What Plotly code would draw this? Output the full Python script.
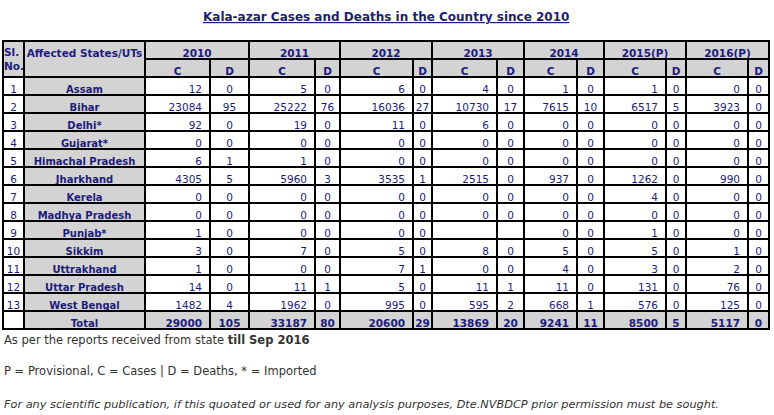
import plotly.graph_objects as go

# ---------------- data ----------------
sl_no = list(range(1, 14))
states = ["Assam", "Bihar", "Delhi*", "Gujarat*", "Himachal Pradesh", "Jharkhand",
          "Kerela", "Madhya Pradesh", "Punjab*", "Sikkim", "Uttrakhand",
          "Uttar Pradesh", "West Bengal"]
years = ["2010", "2011", "2012", "2013", "2014", "2015(P)", "2016(P)"]

cases_2010 = [12, 23084, 92, 0, 6, 4305, 0, 0, 1, 3, 1, 14, 1482]
deaths_2010 = [0, 95, 0, 0, 1, 5, 0, 0, 0, 0, 0, 0, 4]
cases_2011 = [5, 25222, 19, 0, 1, 5960, 0, 0, 0, 7, 0, 11, 1962]
deaths_2011 = [0, 76, 0, 0, 0, 3, 0, 0, 0, 0, 0, 1, 0]
cases_2012 = [6, 16036, 11, 0, 0, 3535, 0, 0, 0, 5, 7, 5, 995]
deaths_2012 = [0, 27, 0, 0, 0, 1, 0, 0, 0, 0, 1, 0, 0]
cases_2013 = [4, 10730, 6, 0, 0, 2515, 0, 0, None, 8, 0, 11, 595]
deaths_2013 = [0, 17, 0, 0, 0, 0, 0, 0, None, 0, 0, 1, 2]
cases_2014 = [1, 7615, 0, 0, 0, 937, 0, 0, 0, 5, 4, 11, 668]
deaths_2014 = [0, 10, 0, 0, 0, 0, 0, 0, 0, 0, 0, 0, 1]
cases_2015 = [1, 6517, 0, 0, 0, 1262, 4, 0, 1, 5, 3, 131, 576]
deaths_2015 = [0, 5, 0, 0, 0, 0, 0, 0, 0, 0, 0, 0, 0]
cases_2016 = [0, 3923, 0, 0, 0, 990, 0, 0, 0, 1, 2, 76, 125]
deaths_2016 = [0, 0, 0, 0, 0, 0, 0, 0, 0, 0, 0, 0, 0]

total_cases = [29000, 33187, 20600, 13869, 9241, 8500, 5117]
total_deaths = [105, 80, 29, 20, 11, 5, 0]

# ---------------- styling ----------------
W, H = 774, 415
NAVY = "#1c1c7c"
GRAY = "#d3d3d3"
LINE = "#000000"
NOTE = "#333333"
FONT = "DejaVu Sans"
ROW_H = 18
TOP = 41
LEFT, SPLIT, RIGHT = 3, 145, 770
left_widths = [21, 121]
value_widths = [65, 39, 66, 25, 73, 19, 65, 27, 53, 27, 62, 20, 62, 21]

NB = "\u00a0"


def px_x(v):
    return v / W


def px_y(v):
    return 1 - v / H


def fmt(v):
    return "" if v is None else str(v)


def nb(s):
    return s.replace(" ", NB)


case_cols = [cases_2010, cases_2011, cases_2012, cases_2013, cases_2014, cases_2015, cases_2016]
death_cols = [deaths_2010, deaths_2011, deaths_2012, deaths_2013, deaths_2014, deaths_2015, deaths_2016]

value_values, value_header, value_align, total_row = [], [], [], []
for c, d, tc, td in zip(case_cols, death_cols, total_cases, total_deaths):
    value_values.append([fmt(v) for v in c])
    value_values.append([fmt(v) for v in d])
    total_row += [str(tc), str(td)]
    value_header += ["C", "D"]
    value_align += ["right", "center"]

n_rows = len(states) + 1
line = dict(color=LINE, width=2)
hfont = dict(family=FONT, size=10.5, color=NAVY, weight="bold")
total_top = TOP + 2 * ROW_H + len(states) * ROW_H

fig = go.Figure()

# Sl. No. / state columns (header spans both header rows)
fig.add_trace(go.Table(
    domain=dict(x=[px_x(LEFT), px_x(SPLIT)], y=[0, px_y(TOP)]),
    columnwidth=left_widths,
    header=dict(values=["", nb("Affected States/UTs")],
                height=2 * ROW_H, fill_color=GRAY, line=line,
                align="center", font=hfont),
    cells=dict(values=[[str(s) for s in sl_no] + [""],
                       [nb(s) for s in states] + ["Total"]],
               height=ROW_H, fill_color=[["white"] * n_rows, [GRAY] * n_rows],
               line=line, align="center",
               font=dict(family=FONT, size=[10.5, 10], color=NAVY,
                         weight=["normal", "bold"])),
))

# Year header row
fig.add_trace(go.Table(
    domain=dict(x=[px_x(SPLIT), px_x(RIGHT)], y=[px_y(TOP + ROW_H + 4), px_y(TOP)]),
    columnwidth=[value_widths[2 * i] + value_widths[2 * i + 1] for i in range(len(years))],
    header=dict(values=years, height=ROW_H, fill_color=GRAY,
                line=line, align="center", font=hfont),
))

# C / D header and state values
fig.add_trace(go.Table(
    domain=dict(x=[px_x(SPLIT), px_x(RIGHT)], y=[0, px_y(TOP + ROW_H)]),
    columnwidth=value_widths,
    header=dict(values=value_header, height=ROW_H, fill_color=GRAY,
                line=line, align="center", font=hfont),
    cells=dict(values=value_values, height=ROW_H, fill_color="white",
               line=line, align=value_align,
               font=dict(family=FONT, size=10.5, color=NAVY)),
))

# Total row (bold, grey)
fig.add_trace(go.Table(
    domain=dict(x=[px_x(SPLIT), px_x(RIGHT)], y=[px_y(total_top + ROW_H + 4), px_y(total_top)]),
    columnwidth=value_widths,
    header=dict(values=total_row, height=ROW_H, fill_color=GRAY,
                line=line, align=value_align, font=hfont),
))

notes = [
    ("As per the reports received from state <b>till Sep 2016</b>", 340, "normal", 11.5),
    ("P = Provisional, C = Cases | D = Deaths, * = Imported", 371, "normal", 11.5),
    ("For any scientific publication, if this quoated or used for any analysis purposes, "
     "Dte.NVBDCP prior permission must be sought.", 404, "italic", 11.3),
]
annotations = [
    dict(text="<b><u>Kala-azar Cases and Deaths in the Country since 2010</u></b>",
         x=px_x(386), y=px_y(17), xref="paper", yref="paper", showarrow=False,
         xanchor="center", yanchor="middle",
         font=dict(family=FONT, size=12, color=NAVY)),
    # header text of the Sl. No. column (cell spans both header rows)
    dict(text="<b>Sl.<br>No.</b>", x=px_x(LEFT + left_widths[0] / 2), y=px_y(TOP + ROW_H),
         xref="paper", yref="paper", showarrow=False, xanchor="center", yanchor="middle",
         align="left", font=dict(family=FONT, size=10.5, color=NAVY)),
]
for txt, ypx, style, size in notes:
    annotations.append(dict(text=txt, x=px_x(2), y=px_y(ypx), xref="paper", yref="paper",
                            showarrow=False, xanchor="left", yanchor="middle",
                            font=dict(family=FONT, size=size, color=NOTE, style=style)))

fig.update_layout(width=W, height=H, margin=dict(l=0, r=0, t=0, b=0),
                  paper_bgcolor="white", annotations=annotations, showlegend=False)

fig.write_html("out.html", config={"displayModeBar": False},
               post_script="document.body.style.margin='0';document.body.style.overflow='hidden';")
